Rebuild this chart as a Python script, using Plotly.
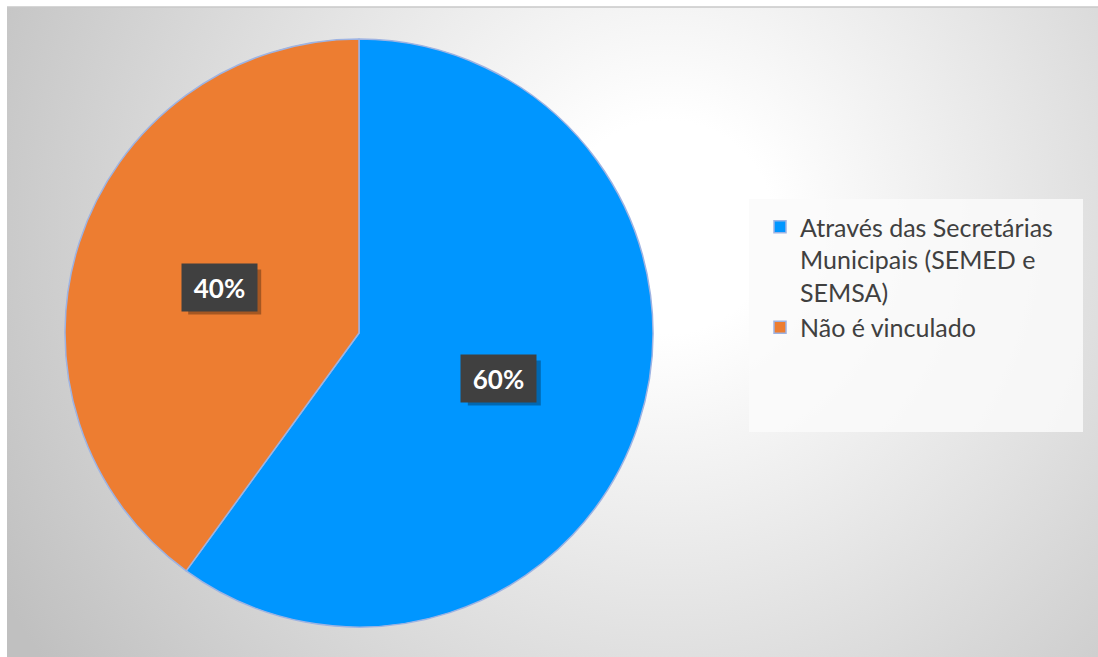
import base64, math
import plotly.graph_objects as go

labels = ["Através das Secretárias<br>Municipais (SEMED e<br>SEMSA)", "Não é vinculado"]
values = [60, 40]
colors = ["#0096FF", "#ED7D31"]

W, H = 1098, 657
cx, cy, R = 359, 333, 294  # pie centre / radius in pixels (layout)

svg = ('<svg xmlns="http://www.w3.org/2000/svg" width="1091" height="650">'
       '<defs><radialGradient id="g" gradientUnits="userSpaceOnUse" cx="660" cy="220" r="760">'
       '<stop offset="0" stop-color="#ffffff"/><stop offset="0.14" stop-color="#ffffff"/>'
       '<stop offset="1" stop-color="#c0c0c0"/></radialGradient></defs>'
       '<rect width="1091" height="650" fill="url(#g)"/></svg>')
bg = "data:image/svg+xml;base64," + base64.b64encode(svg.encode()).decode()

dom_x = [(cx - R) / W, (cx + R) / W]
dom_y = [(H - cy - R) / H, (H - cy + R) / H]

fig = go.Figure(go.Pie(
    labels=labels, values=values, sort=False, direction="clockwise", rotation=0,
    marker=dict(colors=colors, line=dict(color="#9DB3E3", width=1.5)),
    textinfo="none", hoverinfo="label+percent",
    domain=dict(x=dom_x, y=dom_y),
))

# percentage labels placed at half radius on each slice's mid-angle
total = sum(values)
start = 0.0
annotations = []
shapes = [
    dict(type="line", xref="paper", yref="paper", x0=7 / W, x1=1, y0=1 - 7 / H, y1=1 - 7 / H,
         line=dict(color="#c8c8c8", width=1.5), layer="below"),
    dict(type="rect", xref="paper", yref="paper", x0=749 / W, x1=1083 / W,
         y0=1 - 432 / H, y1=1 - 199 / H, fillcolor="rgba(250,250,250,0.85)",
         line=dict(width=0), layer="below"),
]
for v in values:
    frac = v / total
    mid = (start + frac / 2) * 2 * math.pi
    start += frac
    px = cx + 0.5 * R * math.sin(mid)
    py = cy - 0.5 * R * math.cos(mid)
    xp, yp = px / W, 1 - py / H
    pct = f"{round(frac * 100)}%"
    shapes.append(dict(type="rect", xref="paper", yref="paper", xsizemode="pixel", ysizemode="pixel",
                       xanchor=xp, yanchor=yp, x0=-36 + 5, x1=37 + 5, y0=-22 - 5, y1=23 - 5,
                       fillcolor="rgba(0,0,0,0.3)", line=dict(width=0), layer="above"))
    annotations.append(dict(x=xp, y=yp, xref="paper", yref="paper", text=f"<b>{pct}</b>",
                            xanchor="center", yanchor="middle",
                            showarrow=False, width=73, height=45, bgcolor="#404040",
                            font=dict(color="white", size=26, family="Lato")))

fig.update_layout(
    width=W, height=H, margin=dict(l=0, r=0, t=0, b=0),
    paper_bgcolor="white", plot_bgcolor="white",
    images=[dict(source=bg, xref="paper", yref="paper", x=7 / W, y=1 - 7 / H,
                 sizex=1091 / W, sizey=650 / H, sizing="stretch", layer="below",
                 xanchor="left", yanchor="top")],
    shapes=shapes,
    legend=dict(x=760 / W, y=1 - 204 / H, xanchor="left", yanchor="top", valign="top",
                bgcolor="rgba(0,0,0,0)", font=dict(family="Lato", size=25, color="#404040")),
    annotations=annotations,
    showlegend=True,
)
fig.write_html("out.html")
